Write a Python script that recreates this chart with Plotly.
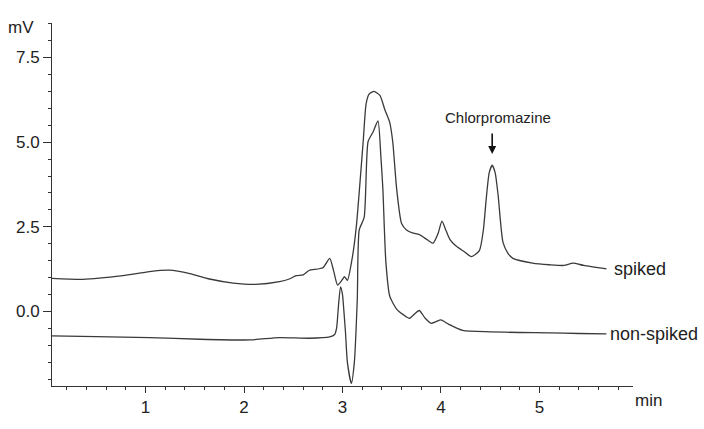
import plotly.graph_objects as go

# Retention time (min) and detector signal (mV)
spiked_t = [0.05, 0.36, 0.77, 1.04, 1.24, 1.45, 1.65, 1.89, 2.12, 2.36, 2.46, 2.53, 2.60, 2.66,
            2.80, 2.87, 2.91, 2.95, 3.00, 3.02, 3.05, 3.10, 3.14, 3.21, 3.24, 3.27, 3.32, 3.38,
            3.43, 3.48, 3.51, 3.55, 3.60, 3.65, 3.71, 3.78, 3.86, 3.92, 3.97, 4.01, 4.05, 4.09,
            4.15, 4.23, 4.31, 4.39, 4.43, 4.46, 4.49, 4.52, 4.55, 4.58, 4.63, 4.68, 4.73, 4.93,
            5.10, 5.25, 5.34, 5.45, 5.68]
spiked_mv = [0.98, 0.95, 1.06, 1.18, 1.22, 1.12, 0.96, 0.84, 0.80, 0.88, 0.96, 1.06, 1.08, 1.21,
             1.29, 1.57, 1.20, 0.78, 0.95, 1.03, 0.92, 1.60, 2.50, 5.02, 6.14, 6.42, 6.50, 6.38,
             5.96, 5.58, 5.02, 3.62, 2.60, 2.41, 2.32, 2.27, 2.12, 2.02, 2.30, 2.67, 2.40, 2.13,
             1.94, 1.78, 1.62, 1.80, 2.40, 3.34, 4.10, 4.32, 4.10, 3.44, 2.04, 1.72, 1.57, 1.43,
             1.38, 1.36, 1.43, 1.36, 1.26]

nonspiked_t = [0.05, 0.5, 1.04, 1.55, 2.06, 2.36, 2.66, 2.87, 2.92, 2.94, 2.96, 2.98, 3.00, 3.01,
               3.03, 3.05, 3.09, 3.12, 3.15, 3.17, 3.22, 3.26, 3.31, 3.36, 3.39, 3.41, 3.44, 3.48,
               3.55, 3.62, 3.68, 3.74, 3.78, 3.84, 3.90, 3.95, 4.00, 4.08, 4.22, 4.50, 4.80, 5.10,
               5.40, 5.68]
nonspiked_mv = [-0.72, -0.74, -0.77, -0.82, -0.84, -0.77, -0.79, -0.75, -0.68, -0.49, 0.20, 0.73,
                0.50, 0.17, -0.60, -1.51, -2.12, -1.51, 0.35, 2.41, 2.78, 5.02, 5.30, 5.63, 4.56,
                3.62, 1.48, 0.45, 0.07, -0.10, -0.20, -0.05, 0.03, -0.20, -0.35, -0.30, -0.25,
                -0.38, -0.56, -0.60, -0.62, -0.63, -0.65, -0.66]

x_ticks = [1, 2, 3, 4, 5]
y_ticks = [0.0, 2.5, 5.0, 7.5]
peak_t, peak_mv = 4.52, 4.65

line_col = "#3a3a3a"
font = "Liberation Sans, Arial, sans-serif"

fig = go.Figure()
fig.add_trace(go.Scatter(x=spiked_t, y=spiked_mv, mode="lines",
                         line=dict(color=line_col, width=1.3, shape="spline", smoothing=0.6),
                         showlegend=False))
fig.add_trace(go.Scatter(x=nonspiked_t, y=nonspiked_mv, mode="lines",
                         line=dict(color=line_col, width=1.3, shape="spline", smoothing=0.6),
                         showlegend=False))

fig.update_layout(
    width=704, height=429,
    margin=dict(l=52, r=71, t=23, b=25),
    paper_bgcolor="white", plot_bgcolor="white",
    font=dict(family=font, size=17, color="#222"),
    xaxis=dict(range=[0.05, 5.95], tickvals=x_ticks, ticktext=[str(v) for v in x_ticks],
               showline=True, linecolor="#333", linewidth=1, showgrid=False, zeroline=False,
               ticks="outside", ticklen=6, tickcolor="#333",
               minor=dict(dtick=0.2, tick0=0, ticks="outside", ticklen=3, tickcolor="#333")),
    yaxis=dict(range=[-2.2, 8.52], tickvals=y_ticks, ticktext=["%.1f" % v for v in y_ticks],
               showline=True, linecolor="#333", linewidth=1, showgrid=False, zeroline=False,
               ticks="outside", ticklen=8, tickcolor="#333",
               minor=dict(dtick=0.5, tick0=0, ticks="outside", ticklen=3, tickcolor="#333")),
)

annotations = [
    dict(text="mV", xref="paper", yref="paper", x=-0.053, y=0.988, xanchor="center",
         yanchor="middle", showarrow=False, font=dict(size=17)),
    dict(text="min", xref="paper", yref="paper", x=1.0, y=-0.04, xanchor="left",
         yanchor="middle", showarrow=False, font=dict(size=17)),
    dict(text="spiked", x=spiked_t[-1], y=spiked_mv[-1], xanchor="left", yanchor="middle",
         xshift=6, showarrow=False, font=dict(size=18)),
    dict(text="non-spiked", x=nonspiked_t[-1], y=nonspiked_mv[-1], xanchor="left",
         yanchor="middle", xshift=2, showarrow=False, font=dict(size=18)),
    dict(text="", x=peak_t, y=peak_mv, ax=0, ay=-22, showarrow=True, arrowhead=2,
         arrowsize=1, arrowwidth=1.6, arrowcolor="#111"),
    dict(text="Chlorpromazine", x=peak_t, y=peak_mv, yshift=37, xshift=6, showarrow=False,
         xanchor="center", yanchor="middle", font=dict(size=15)),
]
fig.update_layout(annotations=annotations)

fig.write_html("out.html")
